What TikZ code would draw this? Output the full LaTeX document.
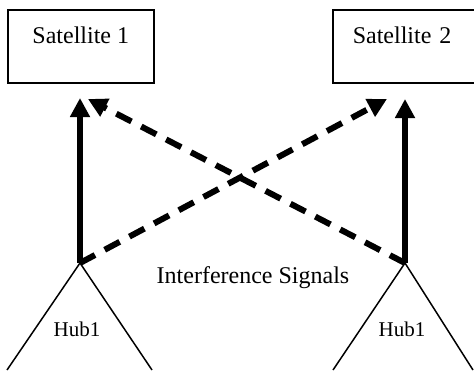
\documentclass[tikz,border=0pt]{standalone}
\usepackage{fontspec}
\setmainfont{Liberation Serif}
\usetikzlibrary{arrows.meta}
\tikzset{
  satbox/.style={draw,line width=1.5pt,rectangle,inner sep=0pt,minimum width=146pt,
    text height=34pt,text depth=39pt,font=\fontsize{24}{28}\selectfont},
  uplink/.style={line width=6.5pt,-{Triangle[length=19pt,width=19pt]}},
  interf/.style={line width=6pt,dash pattern=on 17pt off 11pt,-{Triangle[length=19pt,width=19pt]}},
  hubedge/.style={line width=1.5pt},
  hublabel/.style={anchor=base,font=\fontsize{21}{25}\selectfont}
}
\begin{document}
\begin{tikzpicture}[x=1pt,y=-1pt]
        \useasboundingbox (0,0) rectangle (474,370);
        \clip (0,0) rectangle (474,370);
        \node[satbox,anchor=north west] (sat1) at (7,9) {Satellite 1};
        \node[satbox,anchor=north west,minimum width=152pt,text width=140pt,align=left] (sat2) at (332,9) {\hspace*{14pt}Satellite 2};
        \coordinate (apex1) at (80,263);
        \coordinate (apex2) at (405,263);
        \coordinate (in1) at (80,98);
        \coordinate (in2) at (405,99);
        \coordinate (cross1) at (88,99);
        \coordinate (cross2) at (387,99);
        \draw[hubedge] (7,370)--(apex1)--(152,370);
        \draw[hubedge] (333,370)--(apex2)--(473,370);
        \node[hublabel] (hub1) at (77,336) {Hub1};
        \node[hublabel] (hub2) at (402,336) {Hub1};
        \draw[uplink] (apex1)--(in1);
        \draw[uplink] (apex2)--(in2);
        \draw[interf] (apex2)--(cross1);
        \draw[interf] (apex1)--(cross2);
        \node[anchor=base,font=\fontsize{24}{28}\selectfont] (intlabel) at (253,283) {Interference Signals};
    \end{tikzpicture}
\end{document}
